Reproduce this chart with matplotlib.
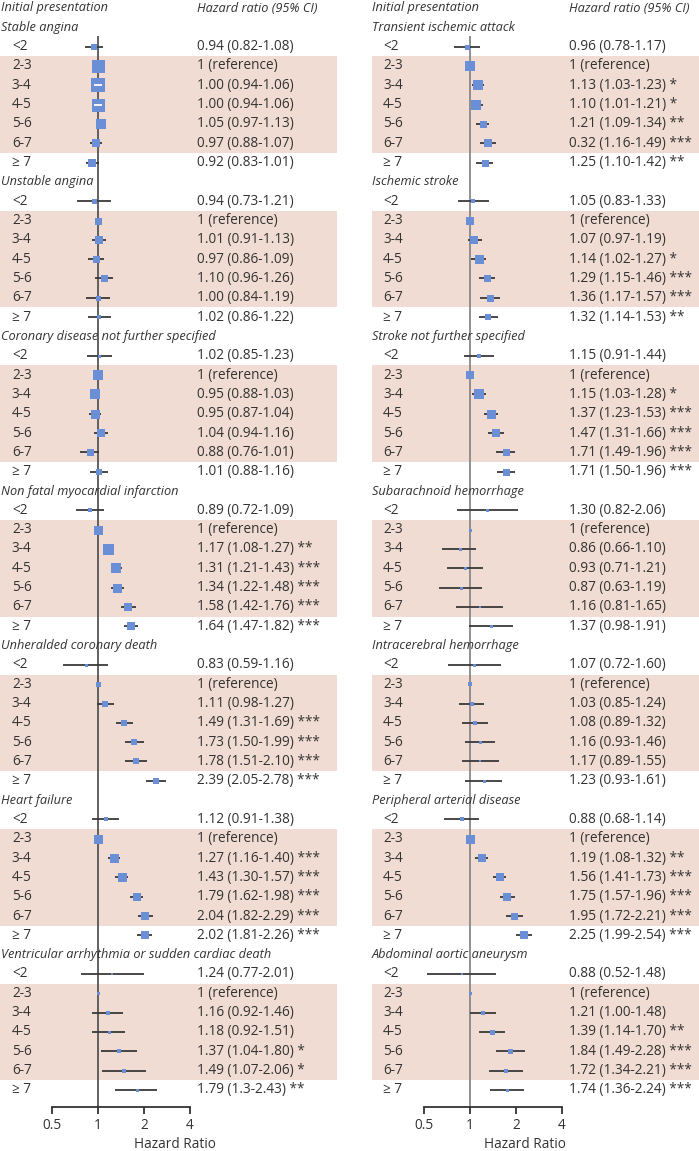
import numpy as np
import matplotlib
matplotlib.use('Agg')
import matplotlib.pyplot as plt
import matplotlib.transforms as mtransforms

plt.rcParams['font.family'] = ['Open Sans', 'DejaVu Sans']

# categories
groups = ['<2', '2-3', '3-4', '4-5', '5-6', '6-7', '\u2265 7']

# ---- left column ----
left_titles = ['Stable angina', 'Unstable angina', 'Coronary disease not further specified',
               'Non fatal myocardial infarction', 'Unheralded coronary death', 'Heart failure',
               'Ventricular arrhythmia or sudden cardiac death']
left_hr = [[0.94, 1, 1.00, 1.00, 1.05, 0.97, 0.92],
           [0.94, 1, 1.01, 0.97, 1.10, 1.00, 1.02],
           [1.02, 1, 0.95, 0.95, 1.04, 0.88, 1.01],
           [0.89, 1, 1.17, 1.31, 1.34, 1.58, 1.64],
           [0.83, 1, 1.11, 1.49, 1.73, 1.78, 2.39],
           [1.12, 1, 1.27, 1.43, 1.79, 2.04, 2.02],
           [1.24, 1, 1.16, 1.18, 1.37, 1.49, 1.79]]
left_lo = [[0.82, 1, 0.94, 0.94, 0.97, 0.88, 0.83],
           [0.73, 1, 0.91, 0.86, 0.96, 0.84, 0.86],
           [0.85, 1, 0.88, 0.87, 0.94, 0.76, 0.88],
           [0.72, 1, 1.08, 1.21, 1.22, 1.42, 1.47],
           [0.59, 1, 0.98, 1.31, 1.50, 1.51, 2.05],
           [0.91, 1, 1.16, 1.30, 1.62, 1.82, 1.81],
           [0.77, 1, 0.92, 0.92, 1.04, 1.07, 1.3]]
left_hi = [[1.08, 1, 1.06, 1.06, 1.13, 1.07, 1.01],
           [1.21, 1, 1.13, 1.09, 1.26, 1.19, 1.22],
           [1.23, 1, 1.03, 1.04, 1.16, 1.01, 1.16],
           [1.09, 1, 1.27, 1.43, 1.48, 1.76, 1.82],
           [1.16, 1, 1.27, 1.69, 1.99, 2.10, 2.78],
           [1.38, 1, 1.40, 1.57, 1.98, 2.29, 2.26],
           [2.01, 1, 1.46, 1.51, 1.80, 2.06, 2.43]]
left_text = [['0.94 (0.82-1.08)', '1 (reference)', '1.00 (0.94-1.06)', '1.00 (0.94-1.06)', '1.05 (0.97-1.13)', '0.97 (0.88-1.07)', '0.92 (0.83-1.01)'],
             ['0.94 (0.73-1.21)', '1 (reference)', '1.01 (0.91-1.13)', '0.97 (0.86-1.09)', '1.10 (0.96-1.26)', '1.00 (0.84-1.19)', '1.02 (0.86-1.22)'],
             ['1.02 (0.85-1.23)', '1 (reference)', '0.95 (0.88-1.03)', '0.95 (0.87-1.04)', '1.04 (0.94-1.16)', '0.88 (0.76-1.01)', '1.01 (0.88-1.16)'],
             ['0.89 (0.72-1.09)', '1 (reference)', '1.17 (1.08-1.27) **', '1.31 (1.21-1.43) ***', '1.34 (1.22-1.48) ***', '1.58 (1.42-1.76) ***', '1.64 (1.47-1.82) ***'],
             ['0.83 (0.59-1.16)', '1 (reference)', '1.11 (0.98-1.27)', '1.49 (1.31-1.69) ***', '1.73 (1.50-1.99) ***', '1.78 (1.51-2.10) ***', '2.39 (2.05-2.78) ***'],
             ['1.12 (0.91-1.38)', '1 (reference)', '1.27 (1.16-1.40) ***', '1.43 (1.30-1.57) ***', '1.79 (1.62-1.98) ***', '2.04 (1.82-2.29) ***', '2.02 (1.81-2.26) ***'],
             ['1.24 (0.77-2.01)', '1 (reference)', '1.16 (0.92-1.46)', '1.18 (0.92-1.51)', '1.37 (1.04-1.80) *', '1.49 (1.07-2.06) *', '1.79 (1.3-2.43) **']]
# box sizes (weights), px
left_w = [[6, 13, 14, 13, 10, 8, 8],
          [5, 7, 8, 7, 7, 5, 4],
          [3, 10, 10, 9, 8, 7, 6],
          [4, 9, 11, 10, 9, 8, 8],
          [3, 5, 6, 6, 6, 6, 6],
          [4, 9, 9, 9, 8, 8, 8],
          [2, 3, 4, 3, 4, 4, 3]]

# ---- right column ----
right_titles = ['Transient ischemic attack', 'Ischemic stroke', 'Stroke not further specified',
                'Subarachnoid hemorrhage', 'Intracerebral hemorrhage', 'Peripheral arterial disease',
                'Abdominal aortic aneurysm']
right_hr = [[0.96, 1, 1.13, 1.10, 1.21, 1.32, 1.25],
            [1.05, 1, 1.07, 1.14, 1.29, 1.36, 1.32],
            [1.15, 1, 1.15, 1.37, 1.47, 1.71, 1.71],
            [1.30, 1, 0.86, 0.93, 0.87, 1.16, 1.37],
            [1.07, 1, 1.03, 1.08, 1.16, 1.17, 1.23],
            [0.88, 1, 1.19, 1.56, 1.75, 1.95, 2.25],
            [0.88, 1, 1.21, 1.39, 1.84, 1.72, 1.74]]
right_lo = [[0.78, 1, 1.03, 1.01, 1.09, 1.16, 1.10],
            [0.83, 1, 0.97, 1.02, 1.15, 1.17, 1.14],
            [0.91, 1, 1.03, 1.23, 1.31, 1.49, 1.50],
            [0.82, 1, 0.66, 0.71, 0.63, 0.81, 0.98],
            [0.72, 1, 0.85, 0.89, 0.93, 0.89, 0.93],
            [0.68, 1, 1.08, 1.41, 1.57, 1.72, 1.99],
            [0.52, 1, 1.00, 1.14, 1.49, 1.34, 1.36]]
right_hi = [[1.17, 1, 1.23, 1.21, 1.34, 1.49, 1.42],
            [1.33, 1, 1.19, 1.27, 1.46, 1.57, 1.53],
            [1.44, 1, 1.28, 1.53, 1.66, 1.96, 1.96],
            [2.06, 1, 1.10, 1.21, 1.19, 1.65, 1.91],
            [1.60, 1, 1.24, 1.32, 1.46, 1.55, 1.61],
            [1.14, 1, 1.32, 1.73, 1.96, 2.21, 2.54],
            [1.48, 1, 1.48, 1.70, 2.28, 2.21, 2.24]]
right_text = [['0.96 (0.78-1.17)', '1 (reference)', '1.13 (1.03-1.23) *', '1.10 (1.01-1.21) *', '1.21 (1.09-1.34) **', '0.32 (1.16-1.49) ***', '1.25 (1.10-1.42) **'],
              ['1.05 (0.83-1.33)', '1 (reference)', '1.07 (0.97-1.19)', '1.14 (1.02-1.27) *', '1.29 (1.15-1.46) ***', '1.36 (1.17-1.57) ***', '1.32 (1.14-1.53) **'],
              ['1.15 (0.91-1.44)', '1 (reference)', '1.15 (1.03-1.28) *', '1.37 (1.23-1.53) ***', '1.47 (1.31-1.66) ***', '1.71 (1.49-1.96) ***', '1.71 (1.50-1.96) ***'],
              ['1.30 (0.82-2.06)', '1 (reference)', '0.86 (0.66-1.10)', '0.93 (0.71-1.21)', '0.87 (0.63-1.19)', '1.16 (0.81-1.65)', '1.37 (0.98-1.91)'],
              ['1.07 (0.72-1.60)', '1 (reference)', '1.03 (0.85-1.24)', '1.08 (0.89-1.32)', '1.16 (0.93-1.46)', '1.17 (0.89-1.55)', '1.23 (0.93-1.61)'],
              ['0.88 (0.68-1.14)', '1 (reference)', '1.19 (1.08-1.32) **', '1.56 (1.41-1.73) ***', '1.75 (1.57-1.96) ***', '1.95 (1.72-2.21) ***', '2.25 (1.99-2.54) ***'],
              ['0.88 (0.52-1.48)', '1 (reference)', '1.21 (1.00-1.48)', '1.39 (1.14-1.70) **', '1.84 (1.49-2.28) ***', '1.72 (1.34-2.21) ***', '1.74 (1.36-2.24) ***']]
right_w = [[5, 10, 10, 10, 7, 8, 7],
           [4, 8, 8, 9, 7, 7, 6],
           [4, 8, 10, 9, 8, 7, 7],
           [3, 3, 3, 3, 3, 2, 3],
           [3, 4, 4, 4, 3, 2, 3],
           [4, 9, 8, 8, 8, 7, 8],
           [2, 3, 4, 5, 5, 4, 3]]

TXT = '#333333'
BOX = '#6a8fd6'
SHADE = '#f0dcd2'
ROW = 19.32          # px per row
PXU = 46.0           # px per doubling of HR
FS = 9.8
FS_IT = 9.2          # italic headers


def draw_panel(ax, titles, hr, lo, hi, text, w, px0, x_hdr, x_lab, x_txt, shade_x, vcol):
    # x in log2 scale, 0.5 sits px0 pixels from the left edge of the axes
    W = ax.get_position().width * fig.get_figwidth() * fig.dpi
    xmin = 2 ** (-1 - px0 / PXU)
    xmax = 2 ** (-1 + (W - px0) / PXU)
    ax.set_xscale('log', base=2)
    ax.set_xlim(xmin, xmax)
    H = fig.get_figheight() * fig.dpi
    ax.set_ylim((H - 8) / ROW, -8 / ROW)

    tr = mtransforms.blended_transform_factory(ax.transAxes, ax.transData)
    ax.text(x_hdr, 0, 'Initial presentation', style='italic', transform=tr,
            va='center', ha='left', fontsize=FS_IT, color=TXT)
    ax.text(x_txt, 0, 'Hazard ratio (95% CI)', style='italic', transform=tr,
            va='center', ha='left', fontsize=FS_IT, color=TXT)

    axis_y = 56.88
    ax.vlines(1, 1.45, axis_y, color=vcol, lw=1.3, zorder=1)

    for s, title in enumerate(titles):
        y0 = 1 + s * 8
        ax.text(x_hdr, y0, title, style='italic', transform=tr,
                va='center', ha='left', fontsize=FS_IT, color=TXT)
        ys = y0 + 1 + np.arange(7)
        ax.axhspan(ys[1] - 0.5, ys[5] + 0.5, xmin=shade_x[0], xmax=shade_x[1],
                   color=SHADE, lw=0, zorder=0)
        h = np.array(hr[s]); l = np.array(lo[s]); u = np.array(hi[s]); ww = np.array(w[s])
        ax.hlines(ys, l, u, color='#3a3a3a', lw=1.3, zorder=2)
        for k in range(7):
            ax.plot(h[k], ys[k], 's', ms=ww[k] * 72 / fig.dpi, color=BOX,
                    mec=BOX, mew=0, zorder=3)
        inside = (np.log2(u) - np.log2(l)) * PXU < ww - 1
        inside &= (u > l)
        ax.hlines(ys[inside], l[inside], u[inside], color='white', lw=1.3, zorder=4)
        for k in range(7):
            ax.text(x_lab, ys[k], groups[k], transform=tr, va='center', ha='left',
                    fontsize=FS, color=TXT)
            ax.text(x_txt, ys[k], text[s][k], transform=tr, va='center', ha='left',
                    fontsize=FS, color=TXT)

    for sp in ['top', 'right', 'left']:
        ax.spines[sp].set_visible(False)
    ax.spines['bottom'].set_position(('data', axis_y))
    ax.spines['bottom'].set_bounds(0.5, 4)
    ax.spines['bottom'].set_color('#333333')
    ax.spines['bottom'].set_linewidth(1.3)
    ax.set_xticks([0.5, 1, 2, 4])
    ax.set_xticklabels(['0.5', '1', '2', '4'])
    ax.xaxis.set_minor_locator(matplotlib.ticker.NullLocator())
    ax.tick_params(axis='x', direction='out', length=5, width=1.3, color='#333333',
                   labelsize=FS, labelcolor=TXT, pad=3)
    ax.set_yticks([])
    ax.set_xlabel('Hazard Ratio', fontsize=FS, color=TXT, labelpad=3)
    ax.patch.set_alpha(0)


fig = plt.figure(figsize=(6.99, 11.51), dpi=100)
axL = fig.add_axes([0, 0, 350 / 699, 1])
axR = fig.add_axes([350 / 699, 0, 349 / 699, 1])

draw_panel(axL, left_titles, left_hr, left_lo, left_hi, left_text, left_w,
           52, 0.003, 0.034, 0.563, (0, 0.963), '#555555')
draw_panel(axR, right_titles, right_hr, right_lo, right_hi, right_text, right_w,
           74, 0.063, 0.095, 0.628, (0.063, 1.0), '#888888')

fig.savefig('out.png', dpi=100)
